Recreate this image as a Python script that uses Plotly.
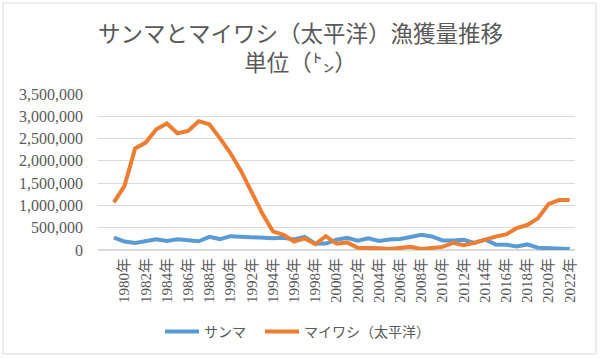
import plotly.graph_objects as go

# ---- data ----
years = list(range(1979, 2023))
sanma = [280000, 190000, 155000, 200000, 240000, 205000, 240000, 220000, 195000, 295000,
         245000, 310000, 300000, 275000, 280000, 265000, 275000, 235000, 295000, 140000,
         145000, 230000, 275000, 210000, 265000, 205000, 235000, 245000, 290000, 340000,
         305000, 215000, 215000, 230000, 160000, 235000, 125000, 120000, 80000, 125000,
         50000, 35000, 25000, 20000]
maiwashi = [1070000, 1440000, 2280000, 2410000, 2710000, 2840000, 2620000, 2670000, 2890000, 2820000,
            2510000, 2170000, 1770000, 1310000, 820000, 420000, 340000, 190000, 260000, 130000,
            310000, 140000, 170000, 50000, 50000, 40000, 25000, 50000, 70000, 25000,
            45000, 70000, 160000, 110000, 160000, 240000, 300000, 350000, 490000, 560000,
            710000, 1030000, 1120000, 1120000]
tick_years = list(range(1980, 2023, 2))
tick_text = [f"{y}年" for y in tick_years]
series_names = ["サンマ", "マイワシ（太平洋）"]
title_text = "サンマとマイワシ（太平洋）漁獲量推移<br>単位（㌧）"

GRAY = "#595959"
GRID = "#d9d9d9"
SERIF = "Liberation Serif, Noto Sans CJK JP, serif"
SANS = "Noto Sans CJK JP, sans-serif"

fig = go.Figure()
fig.add_trace(go.Scatter(x=years, y=sanma, mode="lines", name=series_names[0],
                         line=dict(color="#5B9BD5", width=4), legend="legend"))
fig.add_trace(go.Scatter(x=years, y=maiwashi, mode="lines", name=series_names[1],
                         line=dict(color="#ED7D31", width=4), legend="legend2"))

L, R, T, B = 98, 575, 94, 250
W, H = 600, 358
pw, ph = R - L, B - T


def legend_at(px_left):
    return dict(orientation="h", x=(px_left - L) / pw, xanchor="left",
                y=(B - 332) / ph, yanchor="middle",
                font=dict(family=SANS, size=14, color=GRAY),
                itemwidth=34, bgcolor="rgba(0,0,0,0)")


fig.update_layout(
    width=W, height=H, autosize=False,
    margin=dict(l=L, r=W - R, t=T, b=H - B, autoexpand=False),
    paper_bgcolor="white", plot_bgcolor="white",
    annotations=[dict(text=title_text, xref="paper", yref="paper",
                      x=(300 - L) / pw, y=(B - 46) / ph,
                      xanchor="center", yanchor="middle", showarrow=False,
                      font=dict(family=SANS, size=22.5, color=GRAY))],
    showlegend=True,
    legend=legend_at(160),
    legend2=legend_at(260),
    xaxis=dict(range=[1977.5, 2022.5], tickmode="array", tickvals=tick_years,
               ticktext=tick_text, tickangle=-90, showgrid=False, zeroline=False,
               showline=False, ticks="", ticklabelstandoff=4, automargin=False,
               tickfont=dict(family=SERIF, size=15, color=GRAY)),
    yaxis=dict(range=[0, 3500000], dtick=500000, tickformat=",d",
               showgrid=True, gridcolor=GRID, gridwidth=1.3,
               zeroline=True, zerolinecolor=GRID, zerolinewidth=1.5,
               showline=False, ticks="", ticklabelstandoff=14, automargin=False,
               tickfont=dict(family=SERIF, size=16, color=GRAY)),
    shapes=[dict(type="rect", xref="paper", yref="paper",
                 x0=(3 - L) / pw, x1=(596 - L) / pw,
                 y0=(B - 354) / ph, y1=(B - 3) / ph,
                 line=dict(color=GRID, width=1), fillcolor="rgba(0,0,0,0)", layer="below")],
)

fig.write_html("out.html", config={"displayModeBar": False},
               post_script="document.body.style.margin='0';")
